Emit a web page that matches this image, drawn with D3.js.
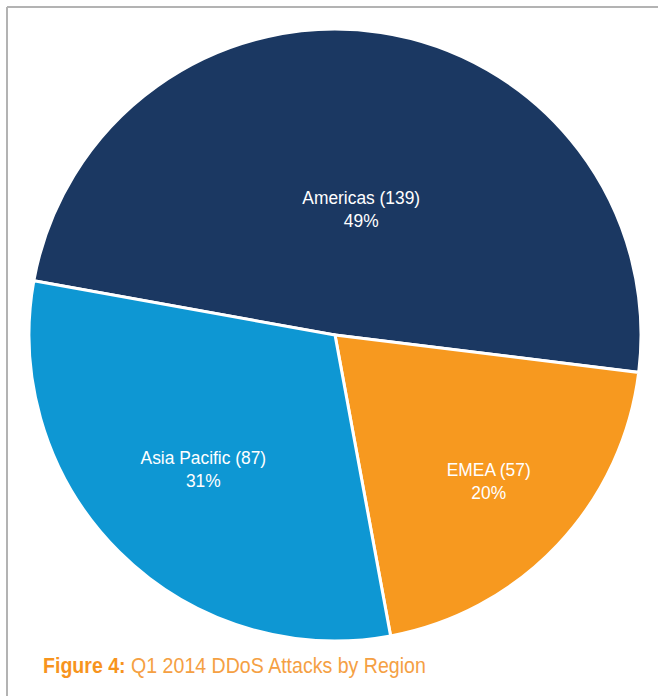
<!DOCTYPE html>
<html>
<head>
<meta charset="utf-8">
<script src="https://cdn.jsdelivr.net/npm/d3@7"></script>
<style>
  body { margin: 0; background: #fff; }
  svg { display: block; }
</style>
</head>
<body>
<div id="chart"></div>
<script>
// Q1 2014 DDoS attacks by region
const regions = ["Americas", "EMEA", "Asia Pacific"];
const attacks = [139, 57, 87];
const percents = ["49%", "20%", "31%"];
const colors = ["#1b3862", "#f7991f", "#0e97d3"];

// label distance from centre, as fraction of radius (layout only)
const labelRadius = [0.42, 0.69, 0.61];

const width = 658, height = 696;
const cx = 335, cy = 335, radius = 306;
const fontStack = "'Liberation Sans', Arial, sans-serif";

const svg = d3.select("#chart")
    .append("svg")
    .attr("width", width)
    .attr("height", height);

// frame lines top + left
svg.append("line")
    .attr("x1", 7).attr("x2", width)
    .attr("y1", 7).attr("y2", 7)
    .attr("stroke", "#b3b3b3").attr("stroke-width", 2);
svg.append("line")
    .attr("x1", 7).attr("x2", 7)
    .attr("y1", 7).attr("y2", height)
    .attr("stroke", "#b3b3b3").attr("stroke-width", 2);

const startAngle = -79.8 * Math.PI / 180;

const pie = d3.pie()
    .sort(null)
    .startAngle(startAngle)
    .endAngle(startAngle + 2 * Math.PI)
    .value(d => d.value);

const data = regions.map((r, i) => ({ name: r, value: attacks[i], pct: percents[i], i }));
const arcs = pie(data);

const arc = d3.arc().innerRadius(0).outerRadius(radius);

const g = svg.append("g")
    .attr("transform", `translate(${cx}, ${cy})`);

g.selectAll(".slice")
    .data(arcs)
    .enter()
    .append("path")
    .attr("class", "slice")
    .attr("d", arc)
    .attr("fill", d => colors[d.data.i])
    .attr("stroke", "#fff")
    .attr("stroke-width", 3)
    .attr("stroke-linejoin", "miter");

const labels = g.selectAll(".label")
    .data(arcs)
    .enter()
    .append("text")
    .attr("class", "label")
    .attr("transform", d => {
        const r = radius * labelRadius[d.data.i];
        const c = d3.arc().innerRadius(r).outerRadius(r).centroid(d);
        // Americas label sits a bit right of its centroid
        const dx = d.data.i === 0 ? 7 : 0;
        return `translate(${c[0] + dx}, ${c[1]}) scale(0.94, 1)`;
    })
    .attr("text-anchor", "middle")
    .attr("fill", "#fff")
    .style("font-family", fontStack)
    .style("font-size", "18.5px");

labels.append("tspan")
    .attr("x", 0)
    .attr("dy", "-0.2em")
    .text(d => `${d.data.name} (${d.data.value})`);
labels.append("tspan")
    .attr("x", 0)
    .attr("dy", "1.25em")
    .text(d => d.data.pct);

// caption (squeezed to mimic the condensed face)
const caption = svg.append("text")
    .attr("transform", "translate(43, 673) scale(0.89, 1)")
    .style("font-family", fontStack)
    .style("font-size", "22px");
caption.append("tspan")
    .attr("fill", "#f7941d")
    .style("font-weight", "bold")
    .text("Figure 4:");
caption.append("tspan")
    .attr("fill", "#f5a043")
    .text(" Q1 2014 DDoS Attacks by Region");
</script>
</body>
</html>
